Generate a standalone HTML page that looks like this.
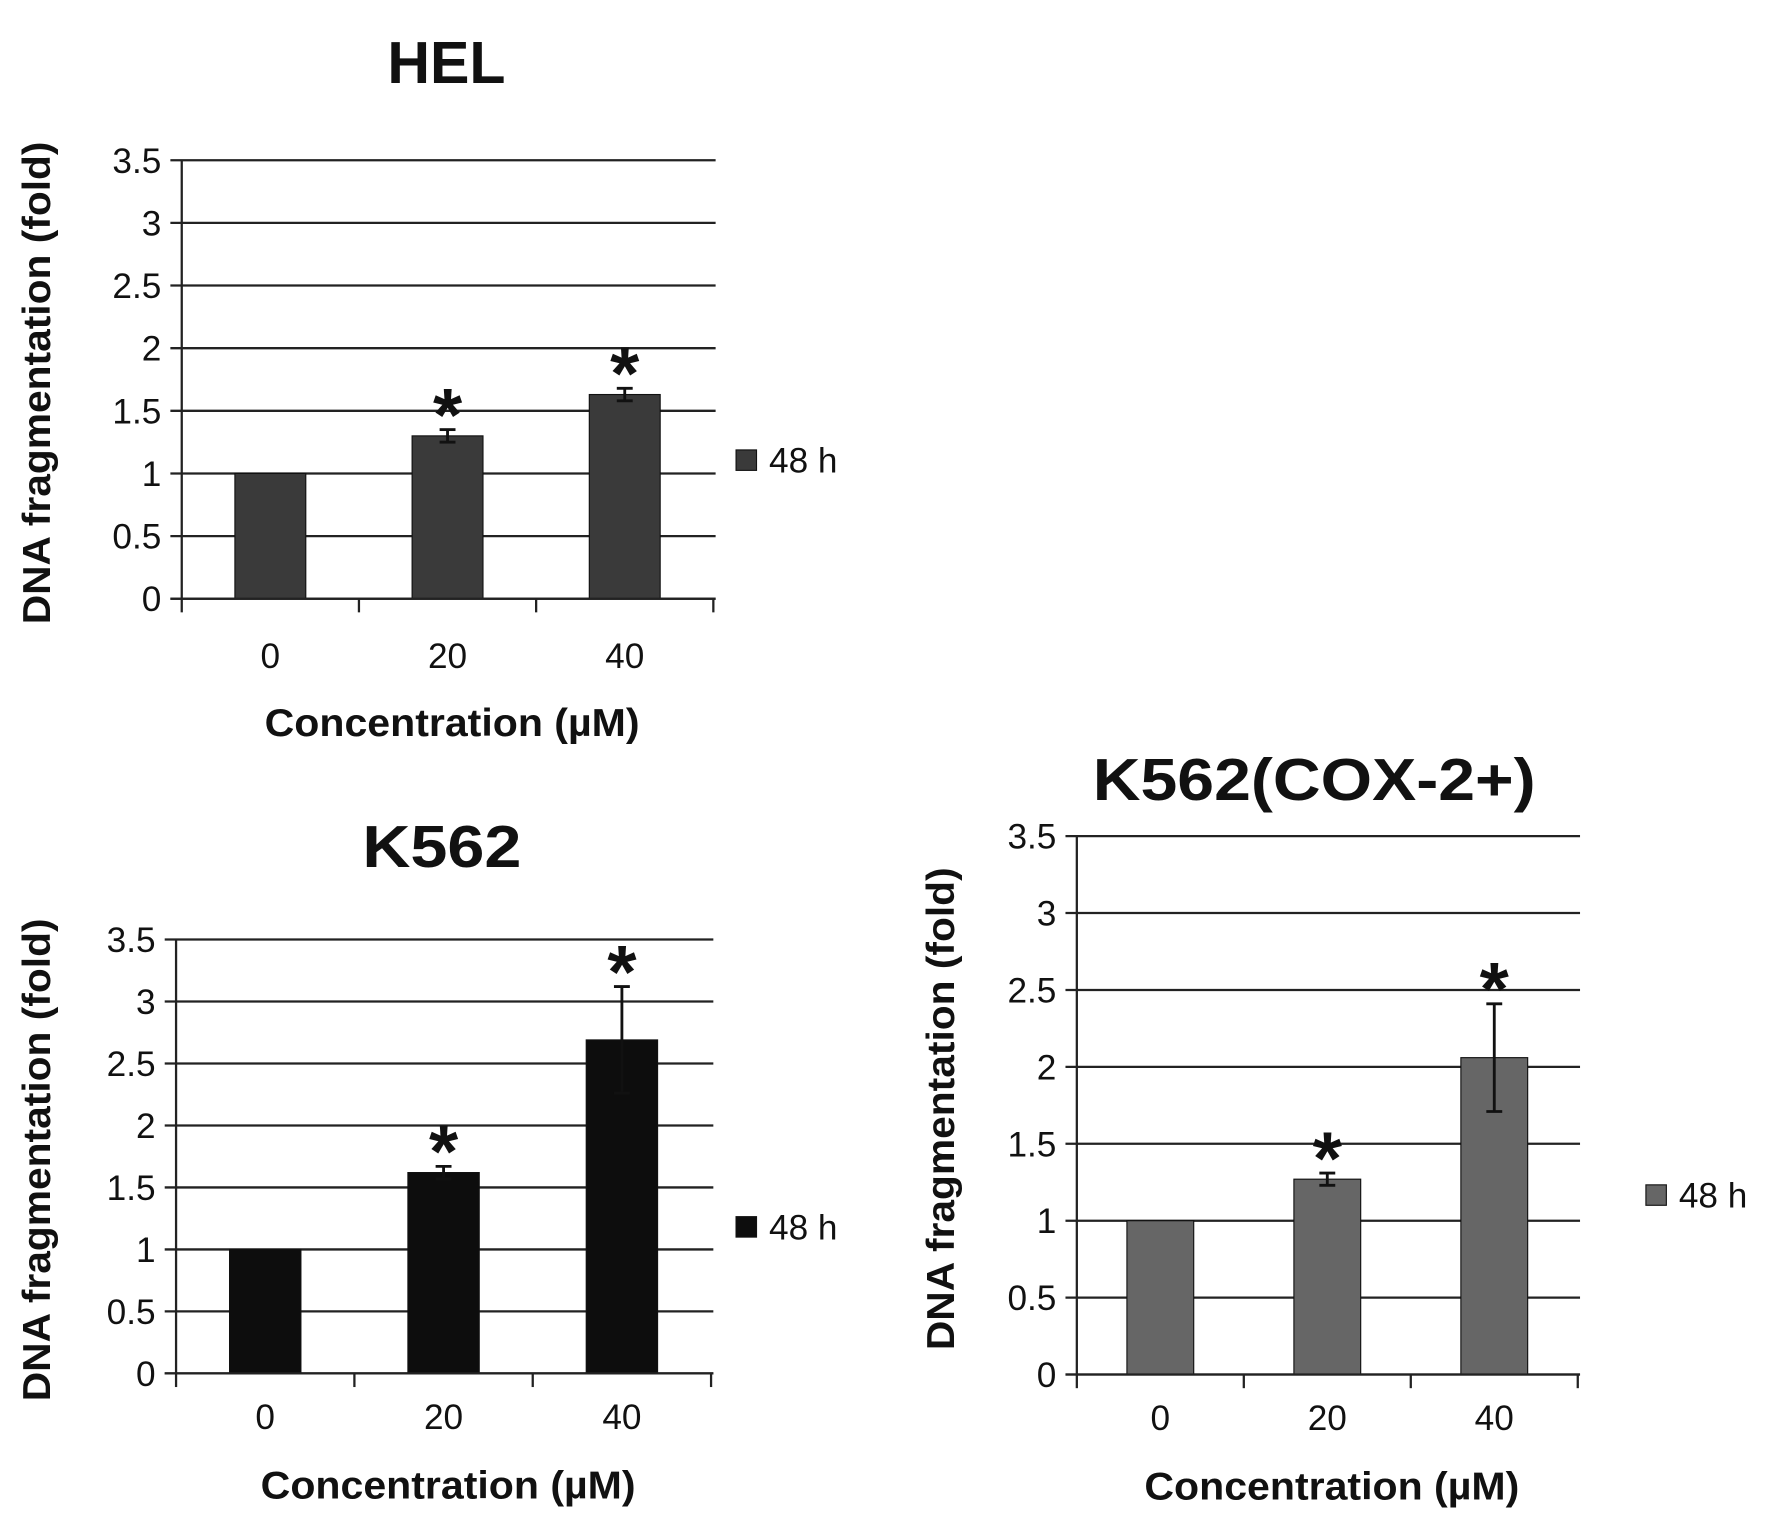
<!DOCTYPE html>
<html><head><meta charset="utf-8">
<style>
html,body{margin:0;padding:0;background:#fff;width:1772px;height:1528px;overflow:hidden}
svg{display:block}
text{font-family:"Liberation Sans",sans-serif;fill:#111}
</style></head>
<body>
<svg id="root" width="1772" height="1528" viewBox="0 0 1560 1345" xmlns="http://www.w3.org/2000/svg"></svg>
<script>
const categories = ["0", "20", "40"];
const yTicks = [0, 0.5, 1, 1.5, 2, 2.5, 3, 3.5];
const yTickLabels = ["0", "0.5", "1", "1.5", "2", "2.5", "3", "3.5"];
const helValues = [1.0, 1.3, 1.63];
const helErrors = [0, 0.05, 0.05];
const k562Values = [1.0, 1.62, 2.69];
const k562Errors = [0, 0.05, 0.43];
const coxValues = [1.0, 1.27, 2.06];
const coxErrors = [0, 0.04, 0.35];
const starFlags = [false, true, true];

const NS = "http://www.w3.org/2000/svg";
const root = document.getElementById('root');
function mk(tag, attrs, parent) {
  const e = document.createElementNS(NS, tag);
  for (const k in attrs) e.setAttribute(k, attrs[k]);
  (parent || root).appendChild(e);
  return e;
}

function drawChart(cfg) {
  const g = mk('g', {});
  
  
  const yScale = v => cfg.y0 - (cfg.y0 - cfg.yTop) * v / 3.5;
  const n = categories.length;
  const band = (cfg.xEnd - cfg.xAxis) / n;
  const xCenter = i => cfg.xAxis + band * (i + 0.5);
  const t = mk('text', {x: cfg.titleX, y: cfg.titleY, 'text-anchor': 'middle', 'font-size': 52, 'font-weight': 'bold', textLength: cfg.titleLen, lengthAdjust: 'spacingAndGlyphs'}, g);
  t.textContent = cfg.title;
  
  
  yTicks.forEach((v, i) => {
    const y = yScale(v);
    const l = mk('line', {x1: cfg.xAxis - 10, x2: cfg.xEnd + 2, y1: y, y2: y, stroke: '#222', 'stroke-width': 2}, g);
    
    
    const tl = mk('text', {x: cfg.xAxis - 18, y: y + 11, 'text-anchor': 'end', 'font-size': 31}, g);
    tl.textContent = yTickLabels[i];
    
    
  });
  const ya = mk('line', {x1: cfg.xAxis, x2: cfg.xAxis, y1: yScale(3.5), y2: cfg.y0, stroke: '#222', 'stroke-width': 2}, g);
  
  
  for (let i = 0; i <= n; i++) {
    const x = cfg.xAxis + band * i;
    const tk = mk('line', {x1: x, x2: x, y1: cfg.y0, y2: cfg.y0 + 12, stroke: '#222', 'stroke-width': 2}, g);
    
    
  }
  const bw = band * 0.4;
  categories.forEach((c, i) => {
    const cx = xCenter(i);
    const v = cfg.values[i], e = cfg.errors[i];
    const b = mk('rect', {x: cx - bw / 2, y: yScale(v), width: bw, height: cfg.y0 - yScale(v), fill: cfg.color, stroke: '#111', 'stroke-width': 1}, g);
    
    
    if (e > 0) {
      const eg = mk('g', {stroke: '#111', 'stroke-width': 2.5}, g);
      
      
      mk('line', {x1: cx, x2: cx, y1: yScale(v + e), y2: yScale(v - e)}, eg);
      mk('line', {x1: cx - 7, x2: cx + 7, y1: yScale(v + e), y2: yScale(v + e)}, eg);
      mk('line', {x1: cx - 7, x2: cx + 7, y1: yScale(v - e), y2: yScale(v - e)}, eg);
    }
    if (starFlags[i]) {
      const s = mk('text', {x: cx, y: yScale(v + e) + 10, 'text-anchor': 'middle', 'font-size': 66, 'font-weight': 'bold'}, g);
      s.textContent = '*';
      
      
    }
    const xl = mk('text', {x: cx, y: cfg.y0 + cfg.labOff, 'text-anchor': 'middle', 'font-size': 31}, g);
    xl.textContent = c;
    
    
  });
  const xa = mk('line', {x1: cfg.xAxis - 10, x2: cfg.xEnd + 2, y1: cfg.y0, y2: cfg.y0, stroke: '#222', 'stroke-width': 2}, g);
  
  
  const xt = mk('text', {x: (cfg.xAxis + cfg.xEnd) / 2 + 4, y: cfg.y0 + cfg.titOff, 'text-anchor': 'middle', 'font-size': 34, 'font-weight': 'bold', textLength: 330, lengthAdjust: 'spacingAndGlyphs'}, g);
  xt.textContent = 'Concentration (µM)';
  
  
  const yc = (cfg.yTop + cfg.y0) / 2 + 3;
  const yt = mk('text', {x: 0, y: 0, 'text-anchor': 'middle', 'font-size': 34, 'font-weight': 'bold', textLength: 425, lengthAdjust: 'spacingAndGlyphs', transform: `translate(${cfg.yTitleX},${yc}) rotate(-90)`}, g);
  yt.textContent = 'DNA fragmentation (fold)';
  
  
  const lg = mk('g', {}, g);
  
  
  mk('rect', {x: cfg.legX, y: cfg.legY - 9, width: 18, height: 18, fill: cfg.color, stroke: '#111', 'stroke-width': 1}, lg);
  const lt = mk('text', {x: cfg.legX + 29, y: cfg.legY + 11, 'font-size': 31}, lg);
  lt.textContent = '48 h';
}

drawChart({name: 'hel-chart', title: 'HEL', titleLen: 104, titleX: 393, titleY: 73, xAxis: 160, xEnd: 628, yTop: 141, y0: 527,
  labOff: 61, titOff: 121,
  values: helValues, errors: helErrors, color: '#3a3a3a', legX: 648, legY: 405, yTitleX: 44});
drawChart({name: 'k562-chart', title: 'K562', titleLen: 140, titleX: 389, titleY: 763, xAxis: 155, xEnd: 626, yTop: 827, y0: 1209,
  labOff: 49, titOff: 110,
  values: k562Values, errors: k562Errors, color: '#0d0d0d', legX: 648, legY: 1080, yTitleX: 44});
drawChart({name: 'k562-cox2-chart', title: 'K562(COX-2+)', titleLen: 390, titleX: 1157, titleY: 704, xAxis: 948, xEnd: 1389, yTop: 736, y0: 1210,
  labOff: 49, titOff: 110,
  values: coxValues, errors: coxErrors, color: '#666666', legX: 1449, legY: 1052, yTitleX: 840});
</script>
</body></html>
